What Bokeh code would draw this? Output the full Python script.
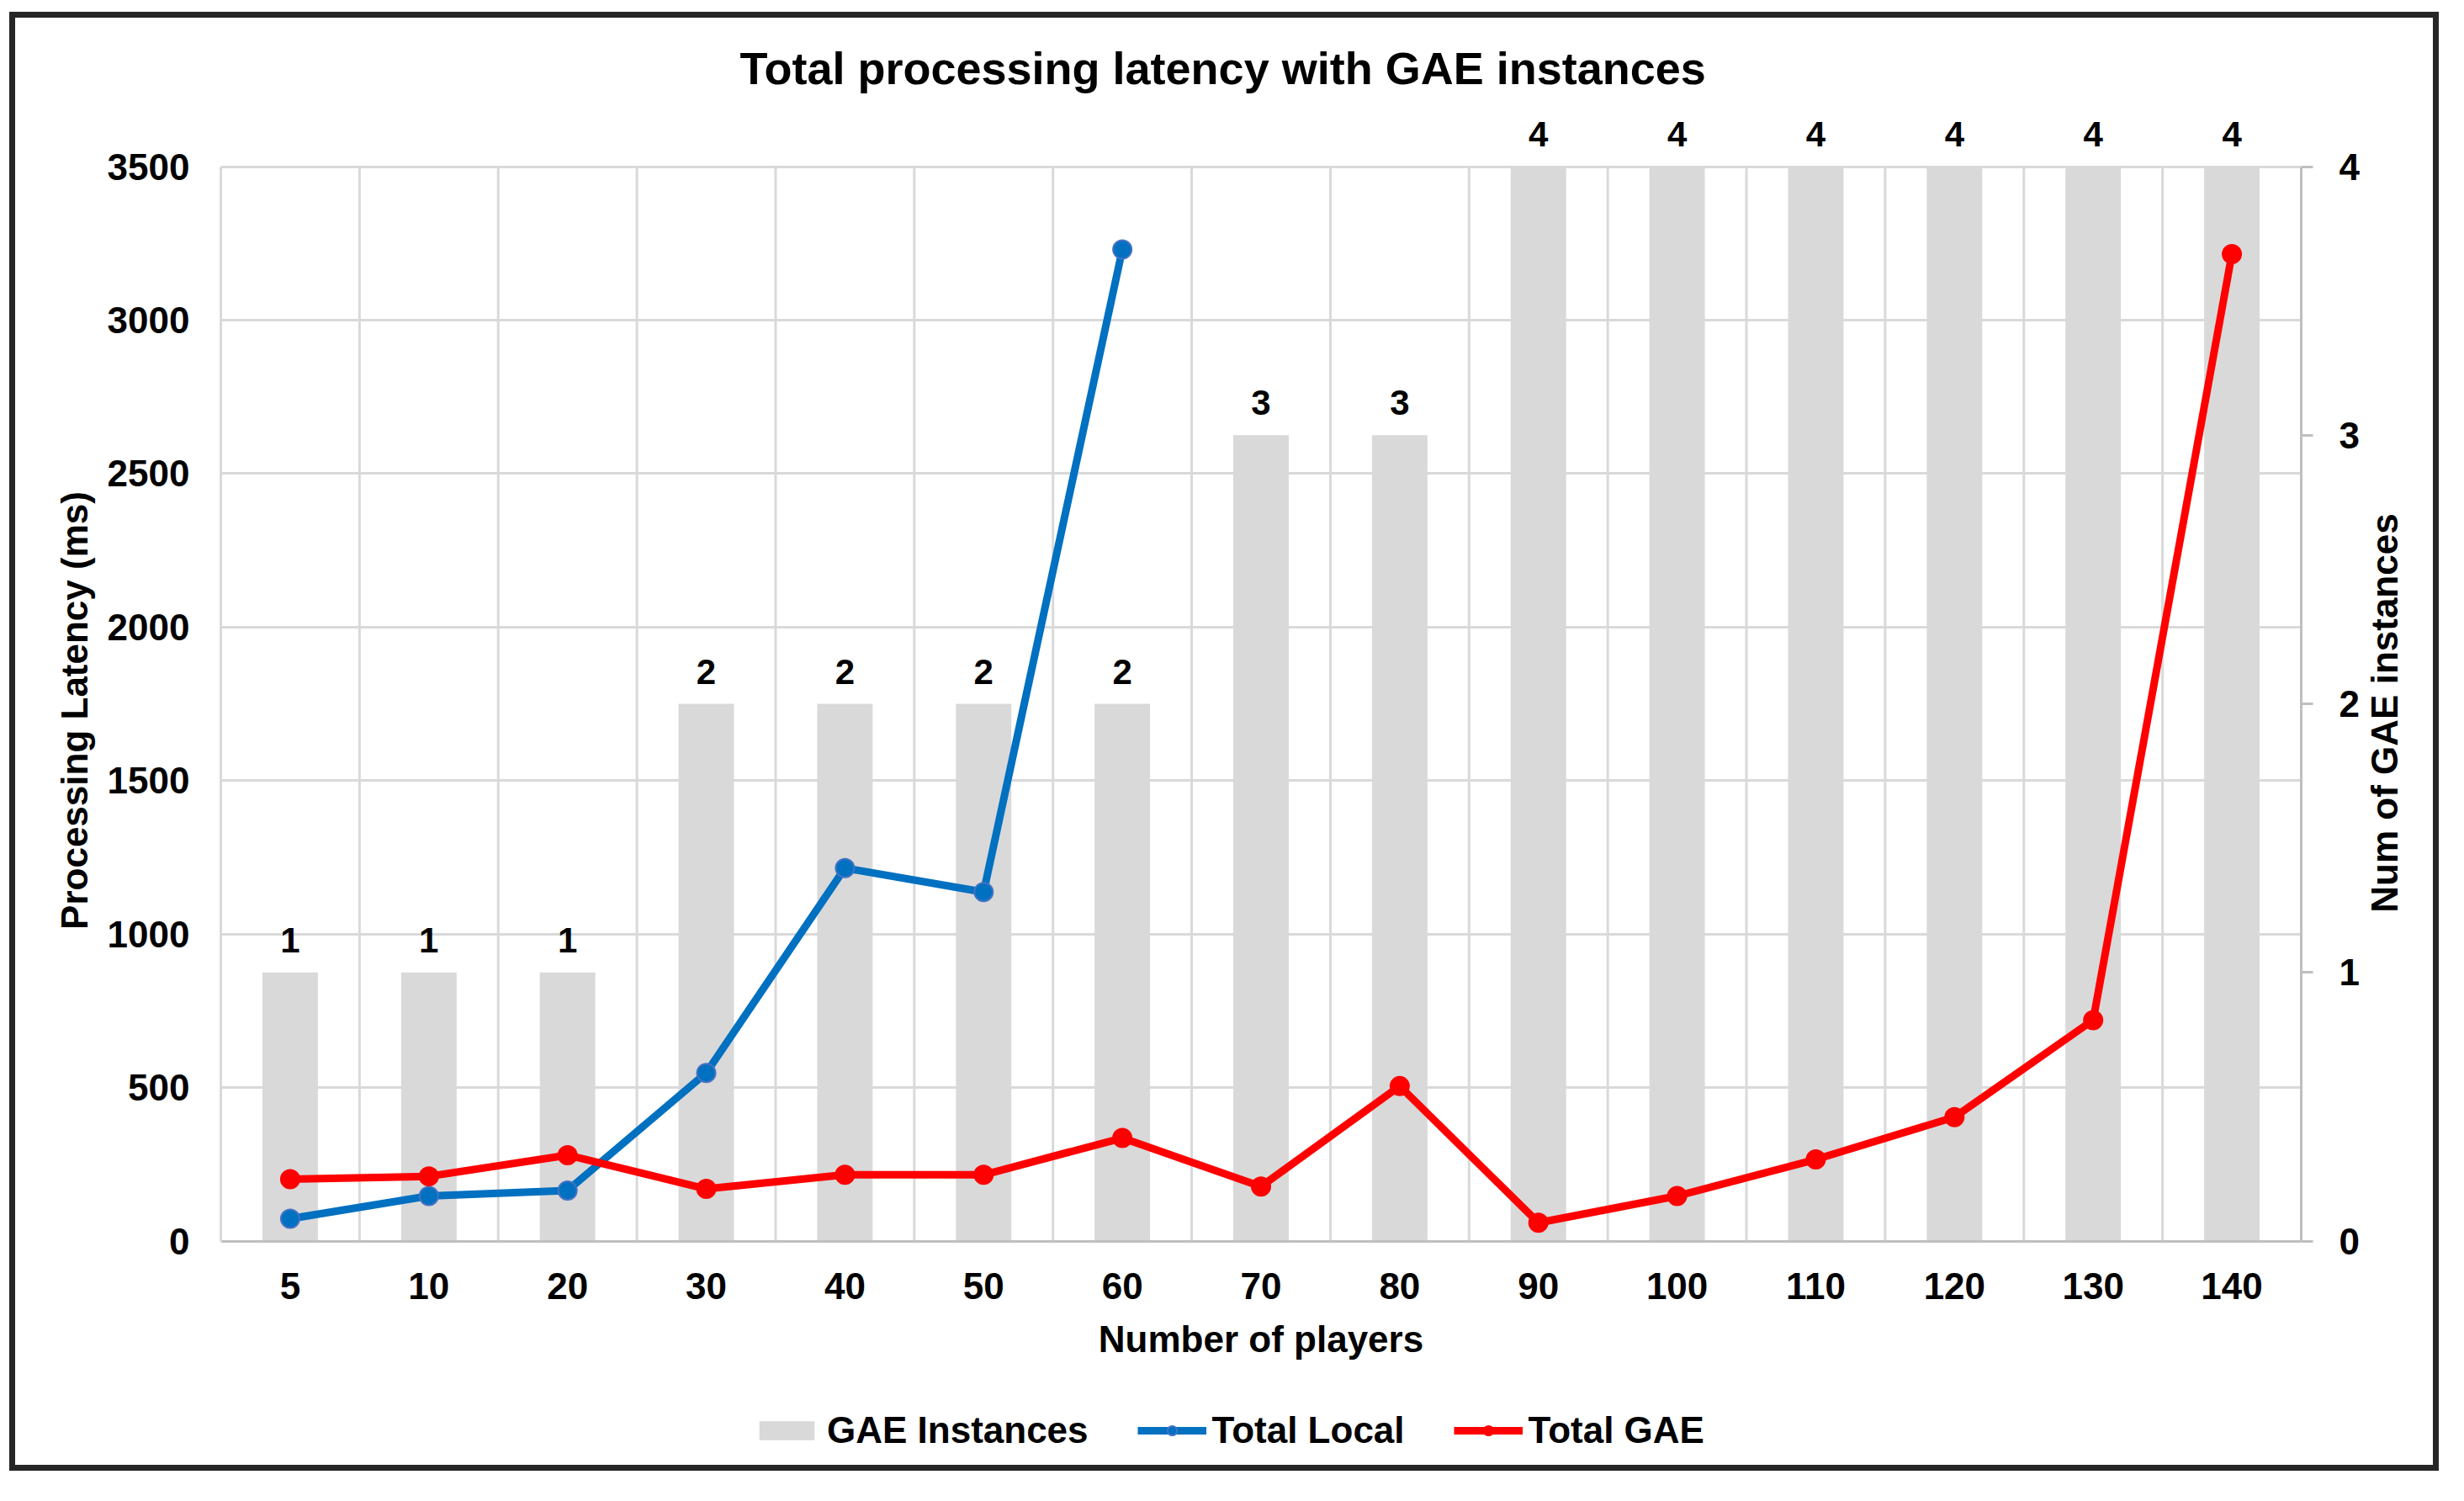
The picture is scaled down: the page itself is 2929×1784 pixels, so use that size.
import numpy as np
from bokeh.plotting import figure
from bokeh.models import (Range1d, LinearAxis, FixedTicker, ColumnDataSource, LabelSet,
                          Label, Legend, LegendItem, FactorRange)
from bokeh.core.properties import value
from bokeh.embed import file_html
from bokeh.resources import INLINE

# ---- data ----
players = ["5", "10", "20", "30", "40", "50", "60", "70", "80", "90",
           "100", "110", "120", "130", "140"]
gae_instances = [1, 1, 1, 2, 2, 2, 2, 3, 3, 4, 4, 4, 4, 4, 4]
local_players = ["5", "10", "20", "30", "40", "50", "60"]
total_local = [73, 147, 165, 548, 1215, 1137, 3230]
total_gae = [202, 211, 280, 170, 216, 216, 336, 178, 505, 60, 147, 266, 404, 720, 3215]
latency_ticks = [0, 500, 1000, 1500, 2000, 2500, 3000, 3500]
instance_ticks = [0, 1, 2, 3, 4]

FONT = "Liberation Sans"
GRID = "#d9d9d9"
AXIS = "#bfbfbf"
BLUE = "#0070c0"
RED = "#ff0000"

LAT_MAX = latency_ticks[-1]
INST_MAX = instance_ticks[-1]
PLOT_PX = 1266.0            # pixel height of the 0..max value area
TOP = 65.0 / PLOT_PX        # room above the top gridline (bar labels)
BOT = 272.0 / PLOT_PX       # room below zero (axis labels and legend)

W, H = 2874, 1720
p = figure(x_range=FactorRange(*players),
           y_range=Range1d(-LAT_MAX * BOT, LAT_MAX * (1 + TOP)),
           width=W, height=H, output_backend="svg", toolbar_location=None,
           min_border_left=244, min_border_right=171, min_border_top=111,
           min_border_bottom=6)
p.styles = {"border": "7px solid #262626", "box-sizing": "content-box",
            "margin-left": "11px", "margin-top": "14px"}
p.outline_line_color = None
p.background_fill_color = "white"
p.border_fill_color = "white"

# title
p.title.text = "Total processing latency with GAE instances"
p.title.text_font = FONT
p.title.text_font_size = "54px"
p.title.text_font_style = "bold"
p.title.text_color = "black"
p.title.align = "left"
p.title.offset = 617
p.title.standoff = 44

p.extra_y_ranges = {"inst": Range1d(-INST_MAX * BOT, INST_MAX * (1 + TOP))}

# grids
p.xgrid.visible = False
p.segment(x0=list(range(1, len(players))), y0=0,
          x1=list(range(1, len(players))), y1=LAT_MAX,
          line_color=GRID, line_width=3, level="underlay")
p.ygrid.ticker = FixedTicker(ticks=latency_ticks[1:])
p.ygrid.grid_line_color = GRID
p.ygrid.grid_line_width = 3

TICK_FS = "44px"
LABEL_FS = "44px"

# bottom axis, drawn at zero latency
xa = p.xaxis[0]
xa.fixed_location = 0
xa.axis_label = "Number of players"
xa.axis_line_color = AXIS
xa.axis_line_width = 3
xa.major_tick_line_color = None
xa.major_tick_out = 0
xa.major_tick_in = 0
xa.major_label_standoff = 38
xa.axis_label_standoff = 19
xa.major_label_text_font = FONT
xa.major_label_text_font_size = TICK_FS
xa.major_label_text_font_style = "bold"
xa.major_label_text_color = "black"
xa.axis_label_text_font = FONT
xa.axis_label_text_font_size = LABEL_FS
xa.axis_label_text_font_style = "bold"
xa.axis_label_text_color = "black"

# left axis
ya = p.yaxis[0]
ya.ticker = FixedTicker(ticks=latency_ticks)
ya.bounds = (0, LAT_MAX)
ya.axis_line_color = GRID
ya.axis_line_width = 3
ya.major_tick_line_color = None
ya.minor_tick_line_color = None
ya.major_tick_out = 0
ya.major_tick_in = 0
ya.major_label_standoff = 37
ya.major_label_text_font = FONT
ya.major_label_text_font_size = TICK_FS
ya.major_label_text_font_style = "bold"
ya.major_label_text_color = "black"

left_title = Label(x=13, y=905, x_units="screen", y_units="screen",
                   text="Processing Latency (ms)", angle=np.pi / 2,
                   text_align="center", text_baseline="middle",
                   text_font=FONT, text_font_size=LABEL_FS, text_font_style="bold",
                   text_color="black")
p.add_layout(left_title, "left")

# right axis
ra = LinearAxis(y_range_name="inst", ticker=FixedTicker(ticks=instance_ticks),
                bounds=(0, INST_MAX))
ra.axis_line_color = AXIS
ra.axis_line_width = 3
ra.major_tick_line_color = AXIS
ra.major_tick_line_width = 3
ra.major_tick_out = 14
ra.major_tick_in = 0
ra.minor_tick_line_color = None
ra.major_label_standoff = 31
ra.major_label_text_font = FONT
ra.major_label_text_font_size = TICK_FS
ra.major_label_text_font_style = "bold"
ra.major_label_text_color = "black"
p.add_layout(ra, "right")

right_title = Label(x=27, y=902, x_units="screen", y_units="screen",
                    text="Num of GAE instances", angle=np.pi / 2,
                    text_align="center", text_baseline="middle",
                    text_font=FONT, text_font_size=LABEL_FS, text_font_style="bold",
                    text_color="black")
p.add_layout(right_title, "right")

# bars
bar_src = ColumnDataSource(dict(player=players, inst=gae_instances,
                                lbl=[str(v) for v in gae_instances]))
bars = p.vbar(x="player", top="inst", width=0.4, source=bar_src, y_range_name="inst",
              fill_color=GRID, line_color=None)

labels = LabelSet(x="player", y="inst", text="lbl", source=bar_src, y_range_name="inst",
                  text_align="center", text_baseline="alphabetic", y_offset=24,
                  text_font=value(FONT), text_font_size=value("42px"),
                  text_font_style="bold", text_color="black")
p.add_layout(labels)

# lines
bl = p.line(local_players, total_local, line_color=BLUE, line_width=9)
bm = p.scatter(local_players, total_local, marker="circle", size=22,
               fill_color=BLUE, line_color="#4472c4", line_width=2)
rl = p.line(players, total_gae, line_color=RED, line_width=9)
rm = p.scatter(players, total_gae, marker="circle", size=22,
               fill_color=RED, line_color=RED, line_width=2)

legend = Legend(items=[LegendItem(label="GAE Instances", renderers=[bars]),
                       LegendItem(label="Total Local", renderers=[bl, bm]),
                       LegendItem(label="Total GAE", renderers=[rl, rm])],
                orientation="horizontal", location=(632, 24),
                glyph_width=82, glyph_height=28, label_standoff=7, spacing=58,
                padding=0, margin=0, border_line_color=None, background_fill_alpha=0,
                label_text_font=FONT, label_text_font_size="44px",
                label_text_font_style="bold", label_text_color="black")
p.add_layout(legend)

open("out.html", "w").write(file_html(p, INLINE))
